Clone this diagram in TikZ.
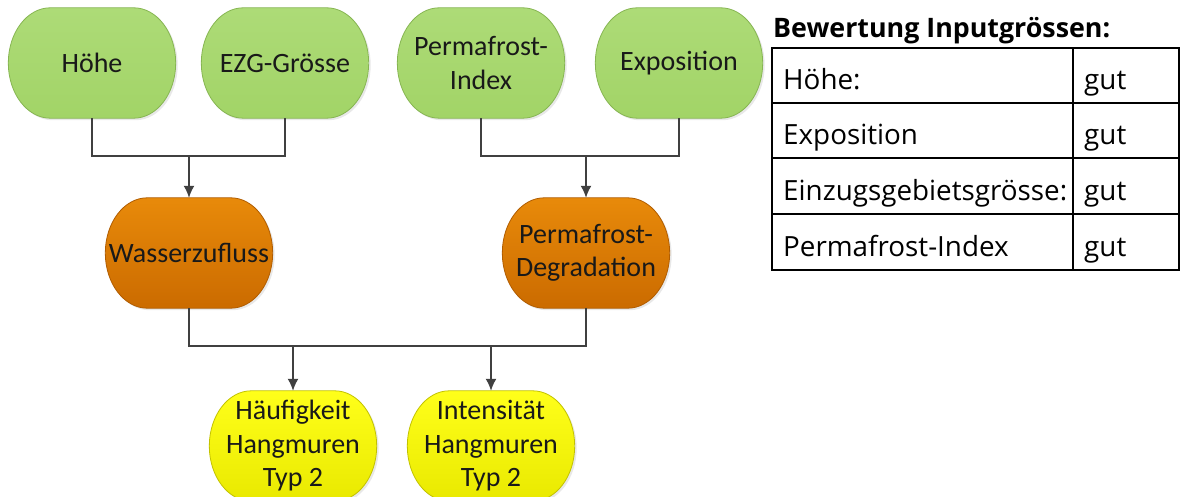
\documentclass[tikz,border=0pt]{standalone}
\usepackage{fontspec}
\setmainfont{Open Sans}
\newfontfamily\boxfont{Carlito}
\usetikzlibrary{arrows.meta, shadows, backgrounds}

\definecolor{inputtop}{HTML}{ADDB77}
\definecolor{inputbot}{HTML}{A2D467}
\definecolor{inputline}{HTML}{86B552}
\definecolor{procestop}{HTML}{E88A0A}
\definecolor{procesbot}{HTML}{CB6B00}
\definecolor{procesline}{HTML}{B05C00}
\definecolor{resulttop}{HTML}{FFFF1A}
\definecolor{resultbot}{HTML}{E9E900}
\definecolor{resultline}{HTML}{C2C200}
\definecolor{wire}{HTML}{404040}

\tikzset{
	flowbox/.style = {rectangle, minimum width = 167pt, minimum height = 110pt, inner sep = 0pt,
		align = center, text = black!90, font = \boxfont\fontsize{28}{33.5}\selectfont},
	boxfill/.style = {line width = 0.8pt,
		drop shadow = {opacity = 0.18, shadow xshift = 2pt, shadow yshift = -2pt}},
	inputfill/.style = {boxfill, draw = inputline, top color = inputtop, bottom color = inputbot},
	procfill/.style = {boxfill, draw = procesline, top color = procestop, bottom color = procesbot},
	resultfill/.style = {boxfill, draw = resultline, top color = resulttop, bottom color = resultbot},
	wireline/.style = {draw = wire, line width = 1.6pt},
	celltext/.style = {anchor = base west, inner sep = 0pt, font = \fontsize{27.8}{33}\selectfont}
}

\begin{document}
\begin{tikzpicture}[x = 1pt, y = -1pt, > = {Latex[length = 12pt, width = 11pt]}]

	% Definitions

	\def\yIn{63}		% Row of input boxes
	\def\yProc{253}		% Row of process boxes
	\def\yOut{446}		% Row of result boxes
	\def\yJoinA{156}	% Upper joining line
	\def\yJoinB{346}	% Lower joining line
	\def\ex{42pt}		% Width of the bulging box ends
	\def\cx{18.8pt}		% Control point at the top of an end
	\def\cy{30.4pt}		% Control point at the side of an end

	\useasboundingbox (0, 0) rectangle (1181, 497);

	% Input boxes

	\node [flowbox] (hoehe) at (92, \yIn) {Höhe};
	\node [flowbox] (ezg) at (285, \yIn) {EZG-Grösse};
	\node [flowbox] (pfindex) at (481, \yIn) {Permafrost-\\Index};
	\node [flowbox] (expo) at (679, \yIn) {Exposition};

	% Process boxes

	\node [flowbox] (wasser) at (189, \yProc) {Wasserzufluss};
	\node [flowbox] (degrad) at (586, \yProc) {Permafrost-\\Degradation};

	% Result boxes

	\node [flowbox] (haeufig) at (293, \yOut) {Häufigkeit\\Hangmuren\\Typ 2};
	\node [flowbox] (intens) at (491, \yOut) {Intensität\\Hangmuren\\Typ 2};

	% Box outlines with bulging ends, behind the texts

	\begin{scope}[on background layer]
		\foreach \n/\s in {hoehe/inputfill, ezg/inputfill, pfindex/inputfill, expo/inputfill,
				wasser/procfill, degrad/procfill, haeufig/resultfill, intens/resultfill}
			\path [\s] ([xshift = -\ex] \n.north east) -- ([xshift = \ex] \n.north west)
				.. controls ([xshift = \cx] \n.north west) and ([yshift = \cy] \n.west) .. (\n.west)
				.. controls ([yshift = -\cy] \n.west) and ([xshift = \cx] \n.south west) .. ([xshift = \ex] \n.south west)
				-- ([xshift = -\ex] \n.south east)
				.. controls ([xshift = -\cx] \n.south east) and ([yshift = -\cy] \n.east) .. (\n.east)
				.. controls ([yshift = \cy] \n.east) and ([xshift = -\cx] \n.north east) .. ([xshift = -\ex] \n.north east)
				-- cycle;
	\end{scope}

	% Joints of the connectors

	\coordinate (join-wasser) at (wasser.north |- 0, \yJoinA);
	\coordinate (join-degrad) at (degrad.north |- 0, \yJoinA);
	\coordinate (join-haeufig) at (haeufig.north |- 0, \yJoinB);
	\coordinate (join-intens) at (intens.north |- 0, \yJoinB);

	% Connectors

	\draw [wireline] (hoehe.south) |- (join-wasser) -| (ezg.south);
	\draw [wireline, ->] (join-wasser) -- (wasser.north);
	\draw [wireline] (pfindex.south) |- (join-degrad) -| (expo.south);
	\draw [wireline, ->] (join-degrad) -- (degrad.north);
	\draw [wireline] (wasser.south) |- (join-haeufig) -- (join-intens) -| (degrad.south);
	\draw [wireline, ->] (join-haeufig) -- (haeufig.north);
	\draw [wireline, ->] (join-intens) -- (intens.north);

	% Rating table

	\node [anchor = base west, inner sep = 0pt, font = \bfseries\fontsize{26.8}{32}\selectfont] (tabtitle) at (773, 38) {Bewertung Inputgrössen:};

	\draw [line width = 2pt] (772, 48) rectangle (1179, 270);
	\foreach \y in {103, 158, 214}
		\draw [line width = 2pt] (772, \y) -- (1179, \y);
	\draw [line width = 2pt] (1073, 48) -- (1073, 270);

	\node [celltext] (row-hoehe) at (783, 90) {Höhe:};
	\node [celltext] (row-expo) at (783, 145) {Exposition};
	\node [celltext] (row-ezg) at (783, 201) {Einzugsgebietsgrösse:};
	\node [celltext] (row-pfindex) at (783, 257) {Permafrost-Index};

	\foreach \y/\name in {90/hoehe, 145/expo, 201/ezg, 257/pfindex}
		\node [celltext] (val-\name) at (1084, \y) {gut};

\end{tikzpicture}
\end{document}
